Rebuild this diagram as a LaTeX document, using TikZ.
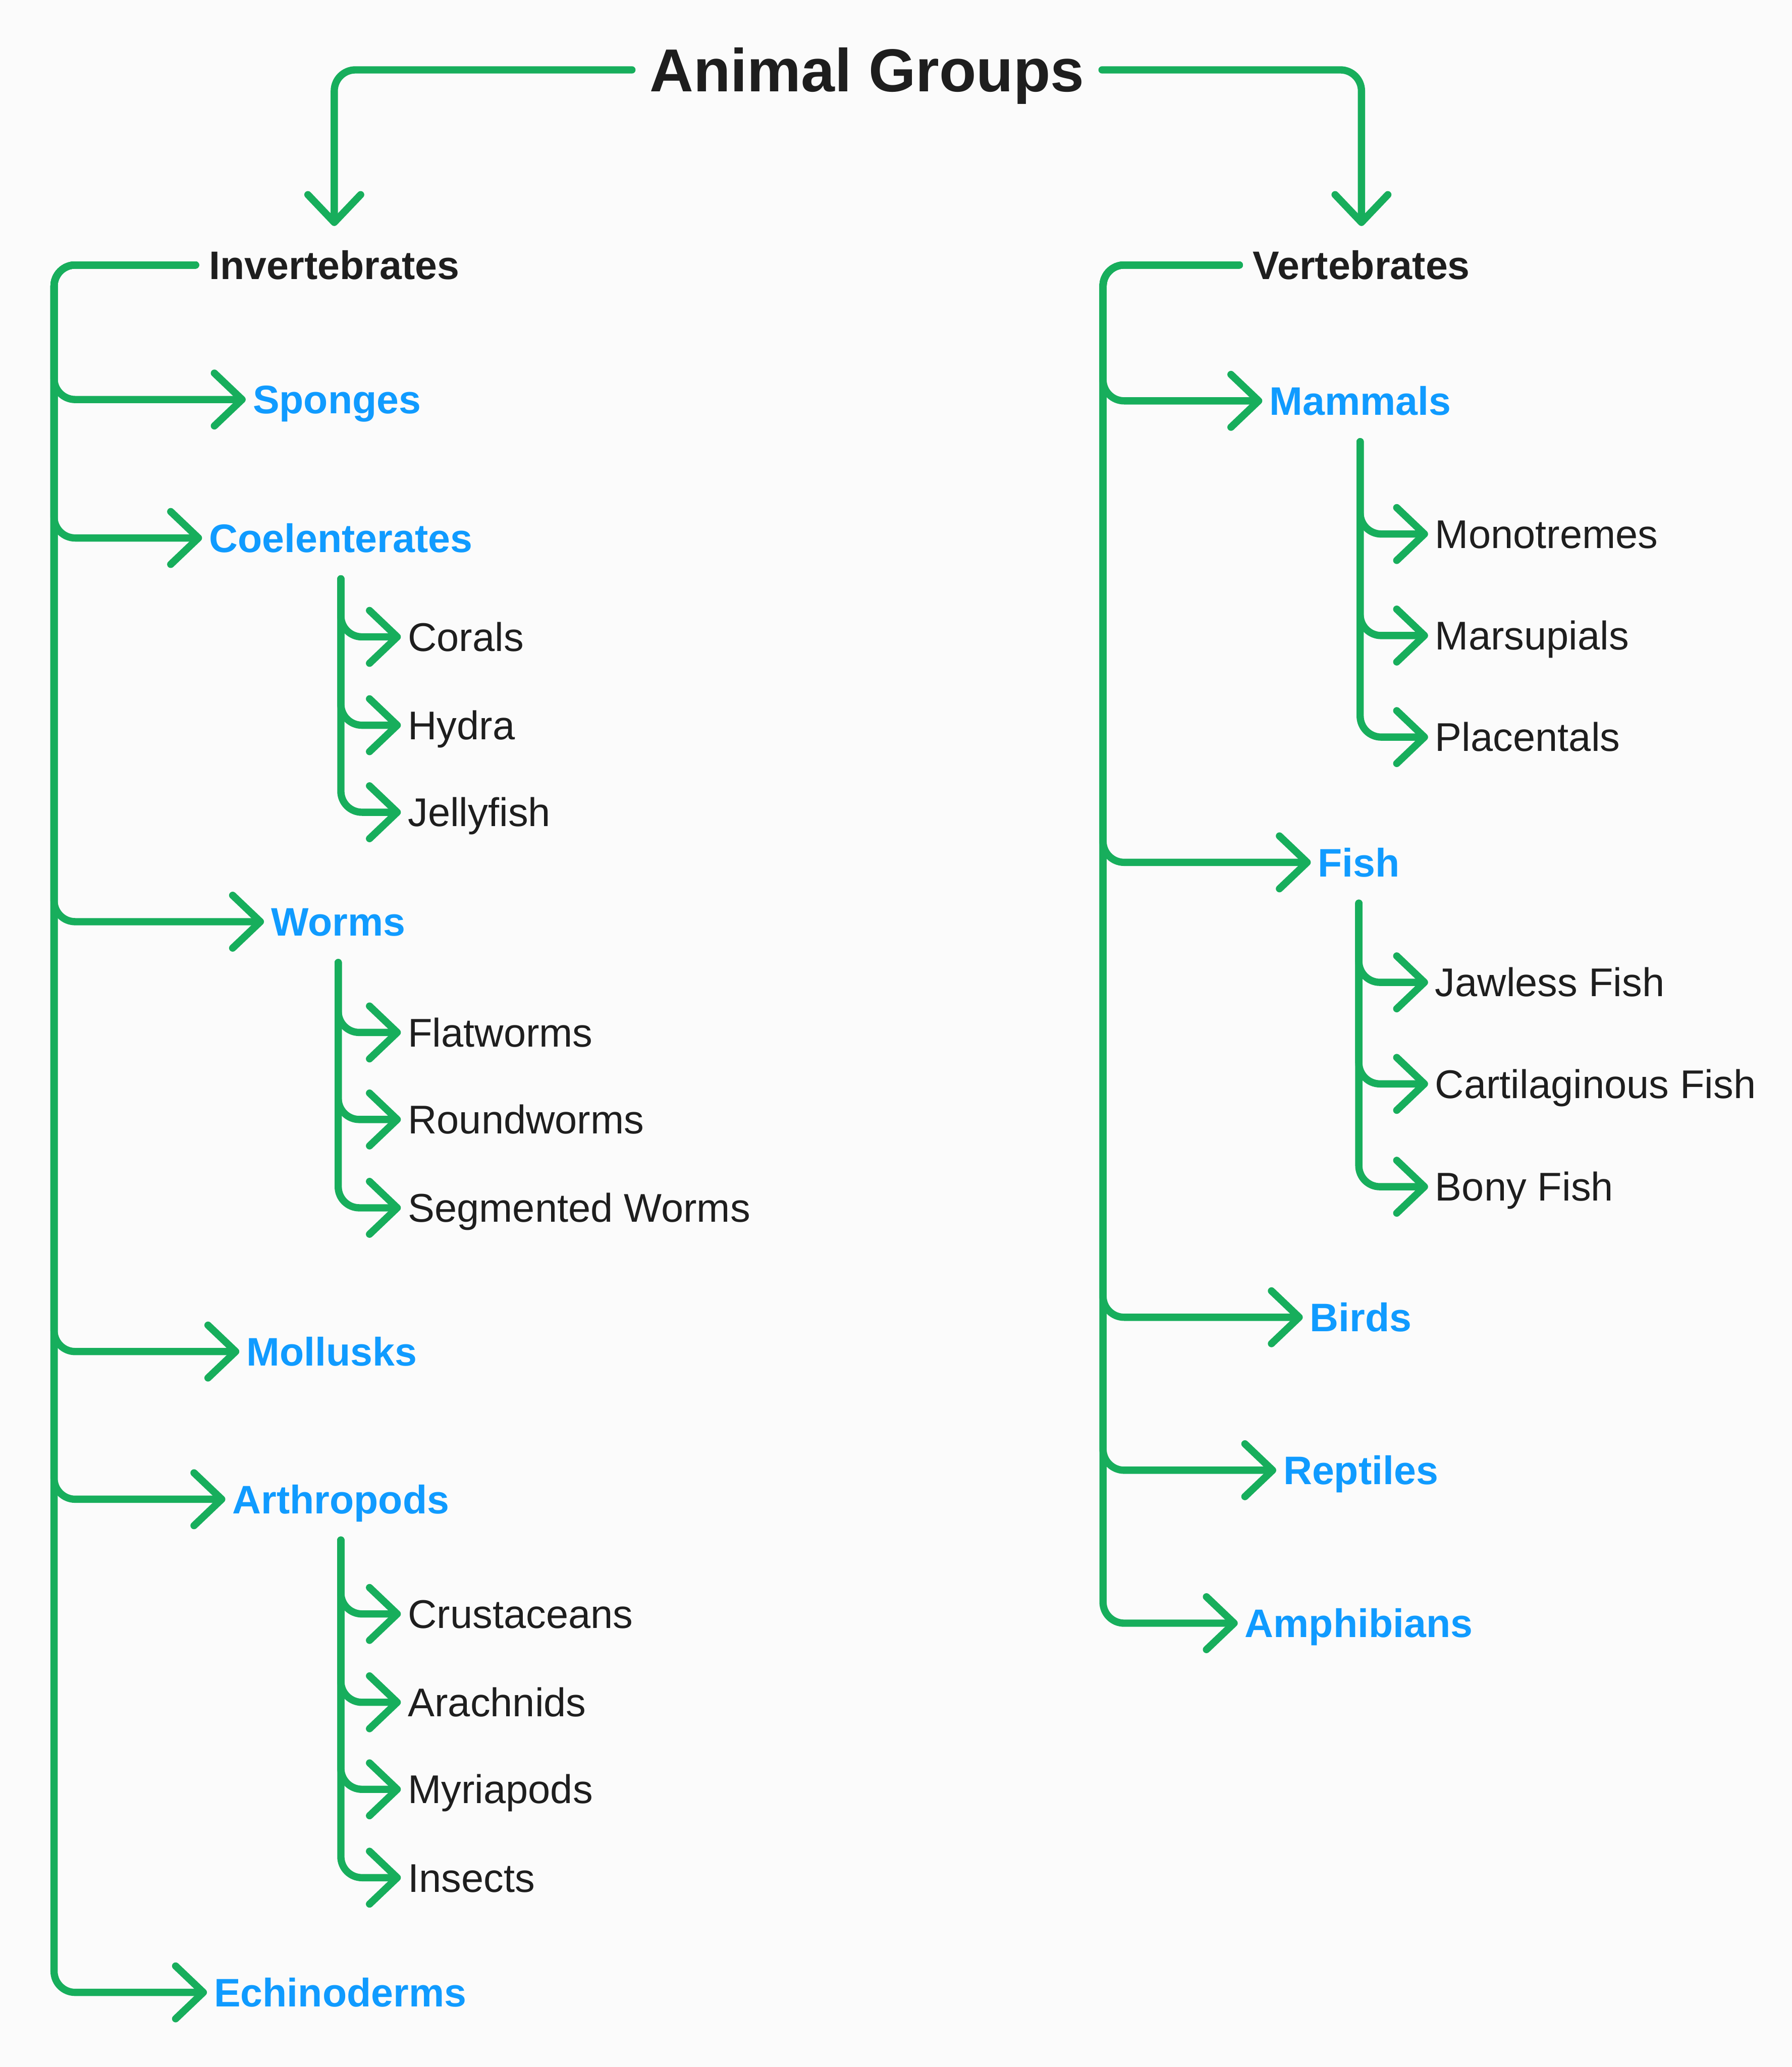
\documentclass[tikz,border=0pt]{standalone}
\usepackage{fontspec}
\setmainfont{Liberation Sans}
\usetikzlibrary{arrows.meta}
\usetikzlibrary{calc}
\definecolor{linkgreen}{RGB}{23,174,92}
\definecolor{groupblue}{RGB}{16,155,255}
\definecolor{inkblack}{RGB}{30,30,30}
\definecolor{paper}{RGB}{251,251,251}

\begin{document}
\begin{tikzpicture}[x=.5pt, y=-.5pt,
  >={Straight Barb[length=10.5pt,width=20pt,round]},
  link/.style={linkgreen, line width=2.75pt, line cap=round, rounded corners=8pt},
  rootbox/.style={font=\bfseries\fontsize{23}{26}\selectfont, text=inkblack, text height=21.4pt, text depth=5pt, inner xsep=6.5pt},
  classbox/.style={font=\bfseries\fontsize{15.1}{18}\selectfont, text=inkblack, text height=14pt, text depth=3.2pt, inner xsep=5pt, inner ysep=6pt},
  groupbox/.style={font=\bfseries\fontsize{15.1}{18}\selectfont, text=groupblue, text height=14pt, text depth=3.2pt, inner xsep=2.5pt},
  leafbox/.style={font=\fontsize{15.2}{18}\selectfont, text=inkblack, text height=14pt, text depth=3.2pt, inner xsep=2.5pt, anchor=west}]
\fill[paper] (0,0) rectangle (1359,1567.6);
\useasboundingbox (0,0) rectangle (1359,1567.6);

\node[rootbox] (root) at (657.5,53) {Animal Groups};
\node[classbox] (inv) at (253.5,201) {Invertebrates};
\node[classbox] (vert) at (1032.5,201) {Vertebrates};
\draw[link,->] (root.west) -| (inv.north);
\draw[link,->] (root.east) -| (vert.north);

\coordinate (inv-bus) at (41,201);
\coordinate (vert-bus) at (836.5,201);

% invertebrates
\foreach \nm/\txt/\x/\y in {spo/Sponges/255.5/303, coel/Coelenterates/258.5/408, worm/Worms/256.5/699, moll/Mollusks/251.5/1025, arth/Arthropods/258.5/1137, echi/Echinoderms/258/1511} {
 \node[groupbox] (\nm) at (\x,\y) {\txt};
 \draw[link,->] (inv.west) -- (inv-bus) |- (\nm.west);
}
\coordinate (coel-sub) at ($(coel)+(0,31)$);
\coordinate (worm-sub) at ($(worm)+(0,31)$);
\coordinate (arth-sub) at ($(arth)+(0,31)$);
\foreach \nm/\txt/\y in {cor/Corals/483, hyd/Hydra/550, jel/Jellyfish/616} {
 \node[leafbox] (\nm) at (304,\y) {\txt};
 \draw[link,->] (coel-sub) |- (\nm.west);
}
\foreach \nm/\txt/\y in {flat/Flatworms/783, round/Roundworms/849, segm/Segmented Worms/916} {
 \node[leafbox] (\nm) at (304,\y) {\txt};
 \draw[link,->] (worm-sub) |- (\nm.west);
}
\foreach \nm/\txt/\y in {crus/Crustaceans/1224, arac/Arachnids/1291, myri/Myriapods/1357, inse/Insects/1424} {
 \node[leafbox] (\nm) at (304,\y) {\txt};
 \draw[link,->] (arth-sub) |- (\nm.west);
}

% vertebrates
\foreach \nm/\txt/\x/\y in {mamm/Mammals/1031.5/304, fish/Fish/1030.5/654, bird/Birds/1032/999, rept/Reptiles/1032/1115, amph/Amphibians/1030.5/1231} {
 \node[groupbox] (\nm) at (\x,\y) {\txt};
 \draw[link,->] (vert.west) -- (vert-bus) |- (\nm.west);
}
\coordinate (mamm-sub) at ($(mamm)+(0,31)$);
\coordinate (fish-sub) at ($(fish)+(0,31)$);
\foreach \nm/\txt/\y in {mono/Monotremes/405, mars/Marsupials/482, plac/Placentals/559} {
 \node[leafbox] (\nm) at (1083,\y) {\txt};
 \draw[link,->] (mamm-sub) |- (\nm.west);
}
\foreach \nm/\txt/\y in {jaw/Jawless Fish/745, cart/Cartilaginous Fish/822, bony/Bony Fish/900} {
 \node[leafbox] (\nm) at (1083,\y) {\txt};
 \draw[link,->] (fish-sub) |- (\nm.west);
}
\end{tikzpicture}
\end{document}
